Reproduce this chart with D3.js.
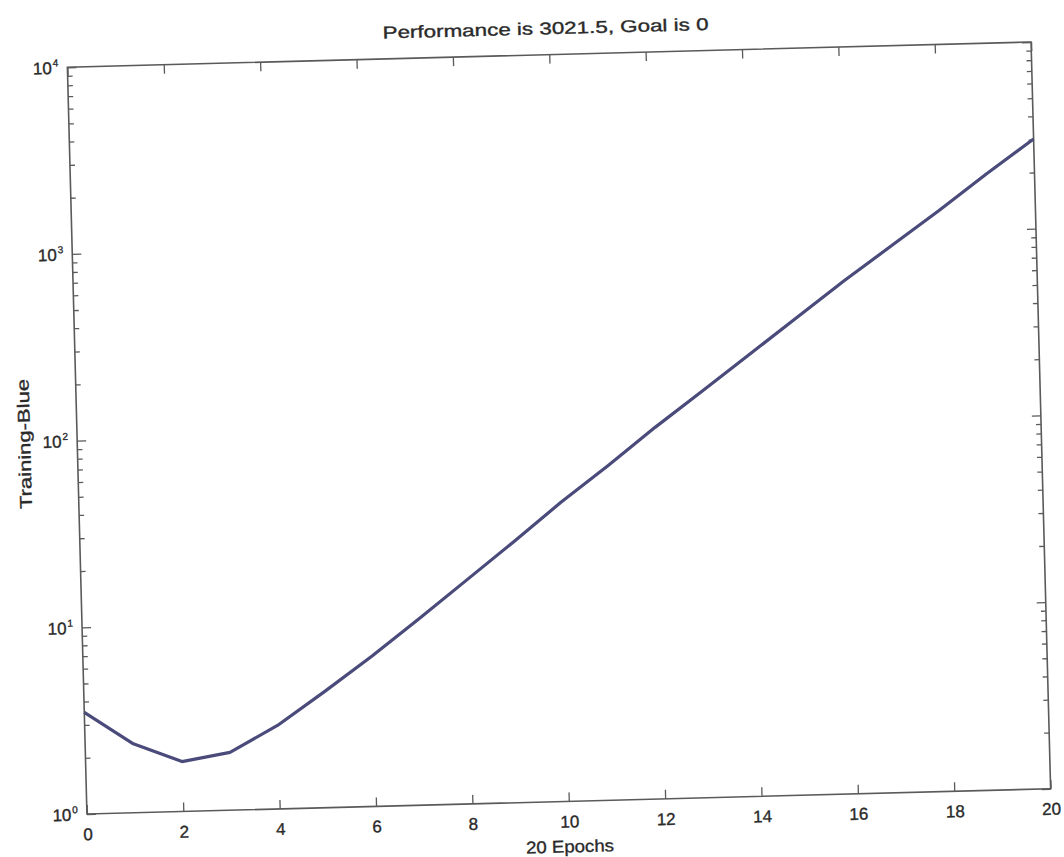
<!DOCTYPE html>
<html>
<head>
<meta charset="utf-8">
<script src="https://cdn.jsdelivr.net/npm/d3@7"></script>
<style>
  body { margin: 0; background: #fff; }
  text { font-family: "Liberation Sans", Arial, sans-serif; fill: #2a2a2a; stroke: #2a2a2a; stroke-width: 0.35px; }
</style>
</head>
<body>
<svg></svg>
<script>
// training record
var epochs = [0, 1, 2, 3, 4, 5, 6, 7, 8, 9, 10, 11, 12, 13, 14, 15, 16, 17, 18, 19, 20];
var performance = [3.5, 2.34, 1.85, 2.04, 2.8, 4.2, 6.4, 10, 15.8, 25, 40, 62, 98, 151, 234, 363, 562, 851, 1290, 1995, 3021.5];
var xTicks = [0, 2, 4, 6, 8, 10, 12, 14, 16, 18, 20];
var yExps = [0, 1, 2, 3, 4];
var titleText = "Performance is 3021.5, Goal is 0";
var xLabel = "20 Epochs";
var yLabel = "Training-Blue";

var width = 1064, height = 857;
var plotLeft = 77, plotRight = 1041, plotTop = 54.5, plotBottom = 801.5;
var axisColor = "#5a5a5a";

var svg = d3.select("svg")
    .attr("width", width)
    .attr("height", height);

// the scan is slightly tilted, so the whole figure is too
var g = svg.append("g")
    .attr("transform", "rotate(-1.5, 559, 428)");

var x = d3.scaleLinear().domain([0, 20]).range([plotLeft, plotRight]);
var y = d3.scaleLog().domain([1, 10000]).range([plotBottom, plotTop]);

var majorY = yExps.map(function(e) { return Math.pow(10, e); });
var minorY = y.ticks().filter(function(v) { return majorY.indexOf(v) < 0; });

function styleAxis(sel) {
  sel.select(".domain").remove();
  sel.selectAll("line").attr("stroke", axisColor).attr("stroke-width", 1.3);
  sel.selectAll("text").attr("font-size", 17).attr("fill", "#2a2a2a")
     .attr("font-family", "Liberation Sans, Arial, sans-serif");
}

// x axes (bottom with labels, top ticks only)
g.append("g").attr("transform", "translate(0," + plotBottom + ")")
  .call(d3.axisBottom(x).tickValues(xTicks).tickSize(-9).tickPadding(14).tickFormat(d3.format("d")))
  .call(styleAxis);
g.append("g").attr("transform", "translate(0," + plotTop + ")")
  .call(d3.axisTop(x).tickValues(xTicks).tickSize(-9).tickFormat(""))
  .call(styleAxis);

// y axes, major and minor ticks on both sides
g.append("g").attr("transform", "translate(" + plotLeft + ",0)")
  .call(d3.axisLeft(y).tickValues(minorY).tickSize(-5).tickFormat(""))
  .call(styleAxis);
g.append("g").attr("transform", "translate(" + plotRight + ",0)")
  .call(d3.axisRight(y).tickValues(minorY).tickSize(-5).tickFormat(""))
  .call(styleAxis);
g.append("g").attr("transform", "translate(" + plotRight + ",0)")
  .call(d3.axisRight(y).tickValues(majorY).tickSize(-9).tickFormat(""))
  .call(styleAxis);

var yAxis = g.append("g").attr("transform", "translate(" + plotLeft + ",0)")
  .call(d3.axisLeft(y).tickValues(majorY).tickSize(-9).tickPadding(9).tickFormat(""))
  .call(styleAxis);

yAxis.selectAll(".tick text")
  .attr("dy", "0.35em")
  .each(function(d) {
    var t = d3.select(this);
    t.append("tspan").text("10");
    t.append("tspan").attr("font-size", 10).attr("dy", "-0.75em").attr("dx", 1)
      .text(Math.round(Math.log10(d)));
  });

// plot box
g.append("rect")
  .attr("x", plotLeft).attr("y", plotTop)
  .attr("width", plotRight - plotLeft).attr("height", plotBottom - plotTop)
  .attr("fill", "none").attr("stroke", axisColor).attr("stroke-width", 1.6);

// performance line
var line = d3.line()
  .x(function(d, i) { return x(epochs[i]); })
  .y(function(d) { return y(d); });

g.append("path")
  .datum(performance)
  .attr("d", line)
  .attr("fill", "none")
  .attr("stroke", "#4a4b7a")
  .attr("stroke-width", 3.2)
  .attr("stroke-linejoin", "round");

// labels
g.append("text")
  .attr("x", (plotLeft + plotRight) / 2 - 3).attr("y", plotTop - 20.5)
  .attr("text-anchor", "middle").attr("font-size", 17)
  .attr("textLength", 326).attr("lengthAdjust", "spacingAndGlyphs")
  .text(titleText);

g.append("text")
  .attr("x", (plotLeft + plotRight) / 2).attr("y", plotBottom + 51)
  .attr("text-anchor", "middle").attr("font-size", 17)
  .attr("textLength", 88).attr("lengthAdjust", "spacingAndGlyphs")
  .text(xLabel);

g.append("text")
  .attr("transform", "translate(30,430) rotate(-90)")
  .attr("text-anchor", "middle").attr("font-size", 17)
  .attr("textLength", 130).attr("lengthAdjust", "spacingAndGlyphs")
  .text(yLabel);
</script>
</body>
</html>
